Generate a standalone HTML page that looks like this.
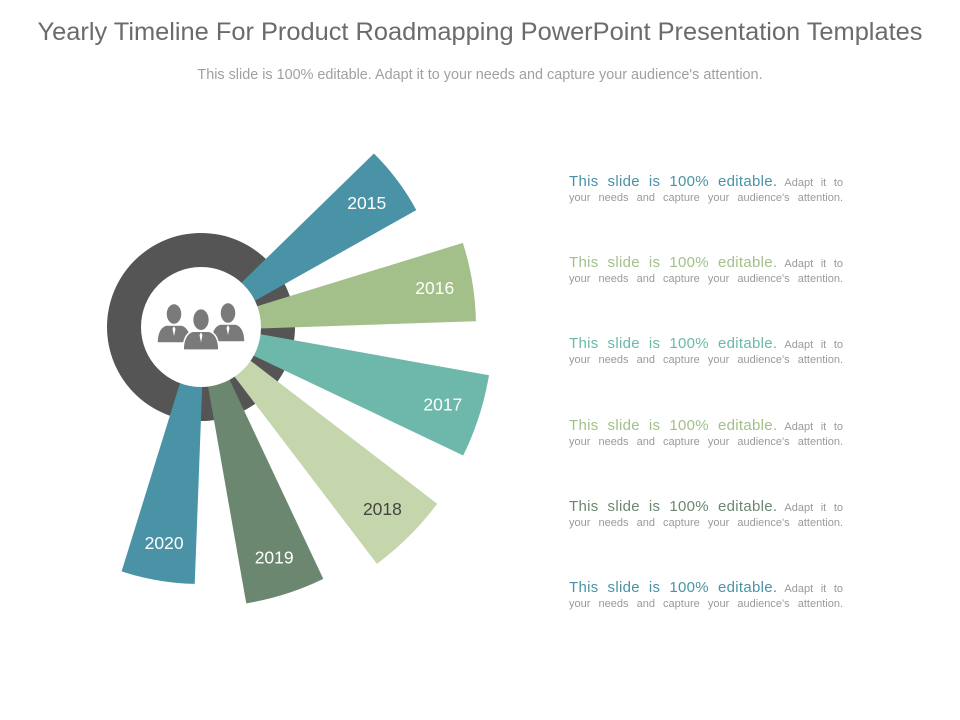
<!DOCTYPE html>
<html><head><meta charset="utf-8"><style>
body{margin:0;background:#fff;width:960px;height:720px;overflow:hidden;font-family:"Liberation Sans",sans-serif;position:relative}
.title{position:absolute;top:18px;left:0;width:960px;text-align:center;font-size:25.4px;color:#6b6b6b}
.sub{position:absolute;top:67px;left:0;width:960px;text-align:center;font-size:14.4px;color:#a0a0a0}
.item{position:absolute;left:569px;width:274px;font-size:11px;color:#9a9a9a;line-height:15px;text-align:justify;text-align-last:justify}
.item .h{font-size:15px;letter-spacing:0.3px}
</style></head><body>
<div class="title">Yearly Timeline For Product Roadmapping PowerPoint Presentation Templates</div>
<div class="sub">This slide is 100% editable. Adapt it to your needs and capture your audience's attention.</div>
<svg id="chart" width="960" height="720" style="position:absolute;left:0;top:0"></svg>
<div id="texts"></div>
<script>
const years=["2015","2016","2017","2018","2019","2020"];
const lengths=[245,275,292,295,280,257];
const colors=["#4a93a6","#a3c08a","#6db8ab","#c5d5ac","#6c8770","#4a93a6"];
const labelColors=["#fff","#fff","#fff","#444","#fff","#fff"];
const textColors=["#4a93a6","#a3c08a","#6db8ab","#a3c08a","#6c8770","#4a93a6"];
const cx=201,cy=327,rIn=58,ringR=94;
const startA=-36.8,stepA=27.3,outerHalf=8.3,innerHalfPx=11;
const NS="http://www.w3.org/2000/svg";
const svg=document.getElementById('chart');
function P(r,a){const t=a*Math.PI/180;return [cx+r*Math.cos(t),cy+r*Math.sin(t)];}
const ring=document.createElementNS(NS,'circle');
ring.setAttribute('cx',cx);ring.setAttribute('cy',cy);ring.setAttribute('r',ringR);ring.setAttribute('fill','#555555');


svg.appendChild(ring);
years.forEach((y,i)=>{
 const ac=startA+i*stepA,R=lengths[i];
 const ih=Math.asin(innerHalfPx/rIn)*180/Math.PI;
 const p1=P(rIn,ac-ih),p2=P(R,ac-outerHalf),p3=P(R,ac+outerHalf),p4=P(rIn,ac+ih);
 const path=document.createElementNS(NS,'path');
 path.setAttribute('d',`M${p1} L${p2} A${R} ${R} 0 0 1 ${p3} L${p4} Z`);
 path.setAttribute('fill',colors[i]);
 
 
 svg.appendChild(path);
 const lp=P(R-38,ac);
 const t=document.createElementNS(NS,'text');
 t.setAttribute('x',lp[0]);t.setAttribute('y',lp[1]+6);t.setAttribute('text-anchor','middle');
 t.setAttribute('font-size','17.5');t.setAttribute('fill',labelColors[i]);t.setAttribute('font-family','Liberation Sans, sans-serif');
 t.textContent=y;
 
 
 svg.appendChild(t);
 const d=document.createElement('div');
 d.className='item';d.style.top=(174+i*81.2)+'px';
 d.innerHTML=`<span class="h" style="color:${textColors[i]}">This slide is 100% editable.</span> Adapt it to<br>your needs and capture your audience's attention.`;
 
 
 document.getElementById('texts').appendChild(d);
});
const inner=document.createElementNS(NS,'circle');
inner.setAttribute('cx',cx);inner.setAttribute('cy',cy);inner.setAttribute('r',rIn+2);inner.setAttribute('fill','#fff');


svg.appendChild(inner);
const g=document.createElementNS(NS,'g');
g.setAttribute('fill','#7a7a7a');


[[174,320,1],[228,319,1],[201,326,1.05]].forEach(([x,y,s])=>{
 g.insertAdjacentHTML('beforeend',`<ellipse cx="${x}" cy="${y-6*s}" rx="${8*s}" ry="${10.5*s}" stroke="#fff" stroke-width="1.5"/><path d="M${x-17*s} ${y+23*s} Q${x-17*s} ${y+8*s} ${x-8*s} ${y+5*s} L${x+8*s} ${y+5*s} Q${x+17*s} ${y+8*s} ${x+17*s} ${y+23*s} Z" stroke="#fff" stroke-width="1.5"/><path d="M${x} ${y+6*s} l-1.5 3 l1.5 7 l1.5 -7 Z" fill="#fff"/>`);
});
svg.appendChild(g);
</script>
</body></html>
